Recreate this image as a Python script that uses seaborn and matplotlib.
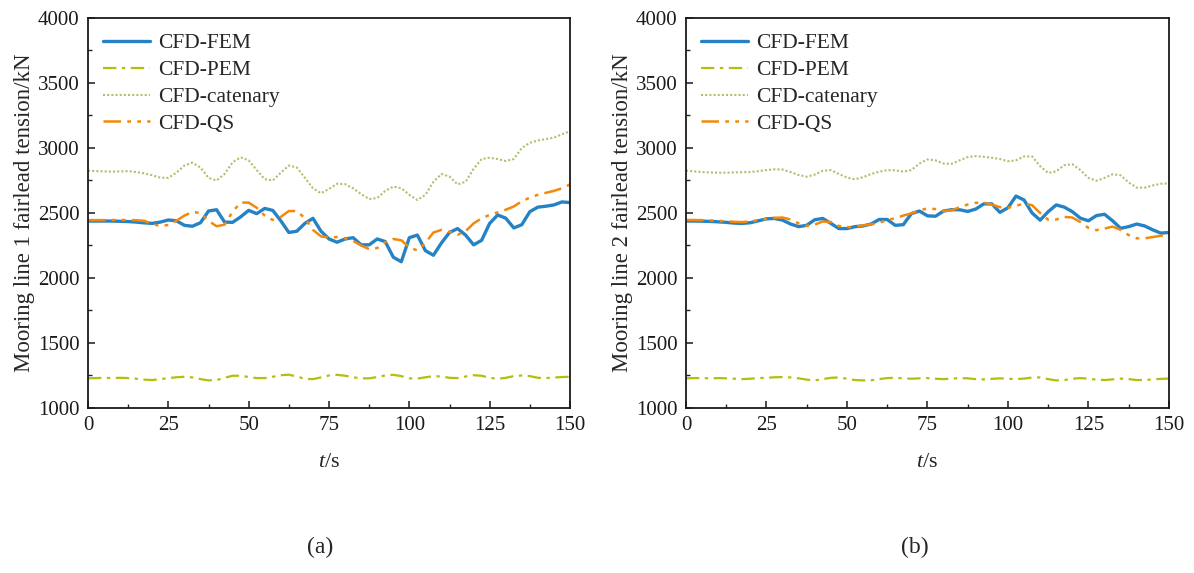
import numpy as np
import pandas as pd
import matplotlib
matplotlib.use("Agg")
import matplotlib.pyplot as plt
from matplotlib.ticker import MultipleLocator
import seaborn as sns

# Time axis (s), sampled every 2.5 s
t = np.arange(0, 150.01, 2.5)

# Mooring line 1 fairlead tension (kN)
line1_fem = [2438, 2438, 2438, 2438, 2436, 2434, 2430, 2424, 2420, 2430, 2446, 2440, 2405, 2398, 2425, 2515,
             2525, 2430, 2428, 2470, 2520, 2495, 2535, 2520, 2440, 2350, 2360, 2420, 2459, 2360, 2300, 2275,
             2300, 2310, 2255, 2255, 2300, 2280, 2160, 2125, 2310, 2330, 2210, 2175, 2270, 2350, 2380, 2330,
             2255, 2290, 2420, 2485, 2460, 2385, 2410, 2510, 2545, 2552, 2562, 2585, 2580]
line1_pem = [1228, 1230, 1232, 1230, 1232, 1230, 1225, 1218, 1215, 1222, 1230, 1236, 1240, 1235, 1222, 1212,
             1215, 1232, 1248, 1248, 1238, 1230, 1230, 1240, 1252, 1256, 1242, 1224, 1222, 1235, 1250, 1255,
             1248, 1236, 1228, 1228, 1238, 1250, 1255, 1245, 1228, 1226, 1236, 1245, 1242, 1232, 1230, 1242,
             1252, 1248, 1232, 1225, 1232, 1245, 1250, 1245, 1232, 1230, 1234, 1238, 1240]
line1_cat = [2825, 2822, 2820, 2818, 2820, 2822, 2815, 2805, 2790, 2772, 2770, 2810, 2865, 2887, 2850, 2770,
             2750, 2800, 2890, 2928, 2905, 2830, 2760, 2750, 2810, 2865, 2850, 2770, 2690, 2652, 2685, 2725,
             2722, 2690, 2645, 2607, 2615, 2670, 2703, 2690, 2640, 2600, 2640, 2740, 2800, 2780, 2720, 2740,
             2840, 2915, 2925, 2915, 2900, 2915, 3000, 3040, 3058, 3068, 3080, 3105, 3130]
line1_qs = [2445, 2445, 2445, 2446, 2446, 2446, 2444, 2440, 2415, 2400, 2408, 2440, 2480, 2508, 2500, 2440,
            2398, 2410, 2510, 2580, 2580, 2540, 2480, 2446, 2470, 2515, 2515, 2460, 2370, 2320, 2310, 2315,
            2305, 2285, 2250, 2222, 2230, 2275, 2300, 2290, 2235, 2212, 2270, 2350, 2370, 2355, 2332, 2360,
            2420, 2460, 2485, 2505, 2525, 2550, 2590, 2618, 2640, 2655, 2670, 2690, 2720]

# Mooring line 2 fairlead tension (kN)
line2_fem = [2438, 2438, 2437, 2435, 2432, 2428, 2422, 2420, 2425, 2440, 2455, 2458, 2445, 2415, 2395, 2405,
             2448, 2458, 2420, 2380, 2380, 2395, 2400, 2415, 2450, 2450, 2405, 2410, 2495, 2515, 2478, 2475,
             2515, 2525, 2525, 2512, 2530, 2570, 2570, 2505, 2540, 2630, 2600, 2500, 2445, 2510, 2562, 2545,
             2510, 2460, 2440, 2480, 2490, 2440, 2382, 2395, 2415, 2400, 2370, 2345, 2350]
line2_pem = [1228, 1230, 1230, 1228, 1230, 1228, 1225, 1222, 1225, 1230, 1232, 1236, 1238, 1235, 1228, 1218,
             1212, 1222, 1232, 1235, 1225, 1215, 1212, 1213, 1222, 1230, 1232, 1228, 1225, 1228, 1230, 1225,
             1222, 1226, 1230, 1228, 1222, 1220, 1224, 1228, 1225, 1222, 1226, 1234, 1235, 1222, 1212, 1215,
             1225, 1230, 1225, 1218, 1215, 1220, 1226, 1222, 1215, 1215, 1220, 1224, 1226]
line2_cat = [2826, 2820, 2815, 2812, 2810, 2810, 2812, 2814, 2815, 2822, 2830, 2836, 2834, 2815, 2792, 2779,
             2795, 2825, 2830, 2800, 2772, 2759, 2775, 2800, 2818, 2830, 2828, 2818, 2830, 2880, 2912, 2905,
             2880, 2878, 2905, 2930, 2938, 2932, 2925, 2915, 2898, 2905, 2935, 2935, 2860, 2808, 2820, 2868,
             2875, 2830, 2770, 2748, 2770, 2798, 2790, 2735, 2695, 2695, 2712, 2725, 2728]
line2_qs = [2446, 2446, 2445, 2443, 2440, 2436, 2432, 2430, 2435, 2445, 2455, 2463, 2465, 2450, 2420, 2400,
            2410, 2435, 2430, 2400, 2390, 2395, 2405, 2412, 2425, 2445, 2460, 2480, 2497, 2520, 2535, 2530,
            2515, 2520, 2545, 2565, 2578, 2580, 2565, 2545, 2540, 2555, 2572, 2560, 2500, 2448, 2450, 2470,
            2465, 2430, 2385, 2368, 2380, 2395, 2370, 2330, 2305, 2305, 2315, 2325, 2331]

series_names = ["CFD-FEM", "CFD-PEM", "CFD-catenary", "CFD-QS"]
panel_titles = ["(a)", "(b)"]
ylabels = ["Mooring line 1 fairlead tension/kN", "Mooring line 2 fairlead tension/kN"]

styles = {
    "CFD-FEM": dict(color="#2582c4", linestyle="-", linewidth=2.4),
    "CFD-PEM": dict(color="#b3bf0a", linestyle=(0, (6, 2.5, 1.5, 2.5)), linewidth=1.6),
    "CFD-catenary": dict(color="#a9c46c", linestyle=(0, (1, 1)), linewidth=1.5),
    "CFD-QS": dict(color="#f2890a", linestyle=(0, (7, 2.5, 1.5, 2.5, 1.5, 2.5)), linewidth=1.8),
}

sns.set_theme(style="ticks")
plt.rcParams["font.family"] = ["Liberation Serif", "DejaVu Serif"]
plt.rcParams["mathtext.fontset"] = "custom"
plt.rcParams["mathtext.rm"] = "Liberation Serif"
plt.rcParams["mathtext.it"] = "Liberation Serif:italic"

fig = plt.figure(figsize=(11.94, 5.73), dpi=100)
axes = [fig.add_axes([0.0737, 0.288, 0.4037, 0.6806]),
        fig.add_axes([0.5745, 0.288, 0.4045, 0.6806])]

panels = [
    dict(zip(series_names, [line1_fem, line1_pem, line1_cat, line1_qs])),
    dict(zip(series_names, [line2_fem, line2_pem, line2_cat, line2_qs])),
]

for ax, data, ylab in zip(axes, panels, ylabels):
    for name in series_names:
        df = pd.DataFrame({"t": t, "tension": data[name]})
        sns.lineplot(data=df, x="t", y="tension", ax=ax, label=name, **styles[name])
    ax.set_xlim(0, 150)
    ax.set_ylim(1000, 4000)
    ax.xaxis.set_major_locator(MultipleLocator(25))
    ax.xaxis.set_minor_locator(MultipleLocator(12.5))
    ax.yaxis.set_major_locator(MultipleLocator(500))
    ax.yaxis.set_minor_locator(MultipleLocator(250))
    ax.tick_params(which="major", direction="in", length=5, width=1.1, labelsize=15, pad=6, colors="#1a1a1a")
    ax.tick_params(which="minor", direction="in", length=3, width=1.0)
    for sp in ax.spines.values():
        sp.set_visible(True)
        sp.set_linewidth(1.3)
        sp.set_color("#1a1a1a")
    ax.set_xlabel(r"$\it{t}$/s", fontsize=16, labelpad=13)
    ax.set_ylabel(ylab, fontsize=16.5, labelpad=2)
    ax.legend(loc="upper left", frameon=False, fontsize=15.5, handlelength=2.2,
              labelspacing=0.32, handletextpad=0.35, borderaxespad=0.3)

fig.text(0.268, 0.045, panel_titles[0], ha="center", va="center", fontsize=17)
fig.text(0.766, 0.045, panel_titles[1], ha="center", va="center", fontsize=17)

fig.savefig("out.png", dpi=100, facecolor="white")
